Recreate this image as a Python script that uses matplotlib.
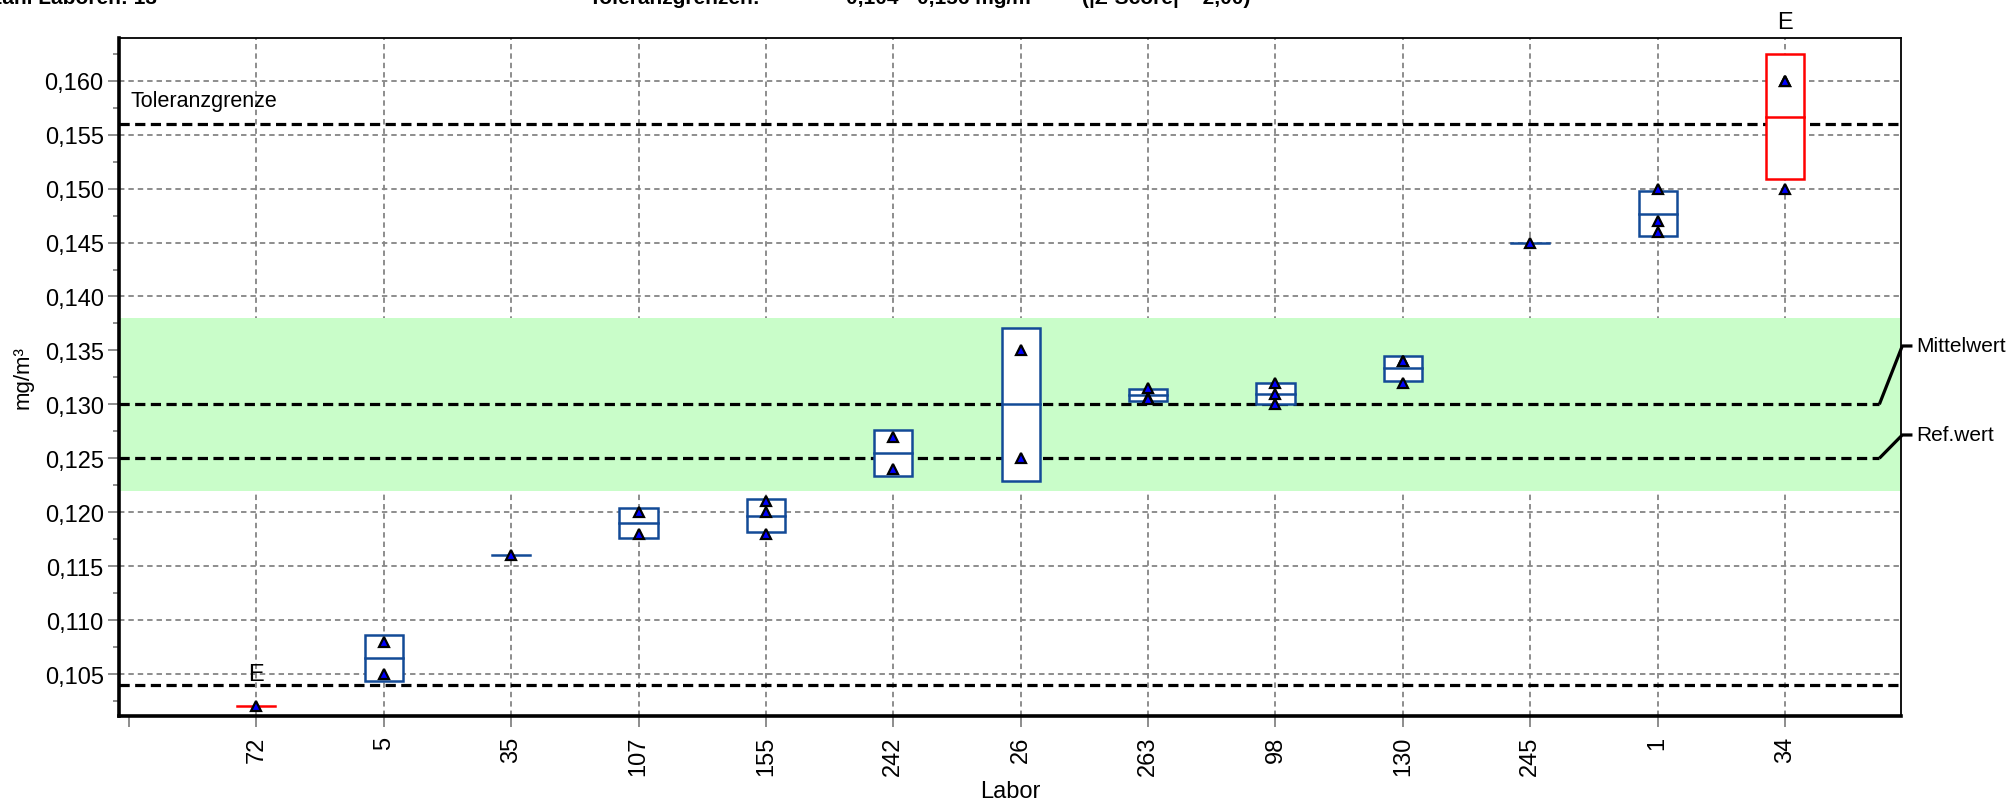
import numpy as np
import matplotlib
matplotlib.use("Agg")
import matplotlib.pyplot as plt
from matplotlib.patches import Rectangle
from matplotlib.ticker import MultipleLocator, FuncFormatter

plt.rcParams['font.family'] = ['Liberation Sans', 'DejaVu Sans']

# --- data -------------------------------------------------------------
labs = ['72', '5', '35', '107', '155', '242', '26', '263', '98', '130', '245', '1', '34']
lab_values = [
    [0.102],
    [0.108, 0.105],
    [0.116],
    [0.120, 0.118],
    [0.121, 0.120, 0.118],
    [0.127, 0.124],
    [0.135, 0.125],
    [0.1315, 0.1306, 0.1305],
    [0.132, 0.131, 0.130],
    [0.134, 0.134, 0.132],
    [0.145],
    [0.150, 0.147, 0.146],
    [0.160, 0.160, 0.150],
]
flagged_labs = ['72', '34']          # marked "E"
mean_value = 0.130                   # Mittelwert
ref_value = 0.125                    # Referenzwert
tol_low, tol_high = 0.104, 0.156     # Toleranzgrenzen
band_low, band_high = 0.122, 0.138   # shaded range

n_labs = len(labs)
blue = '#134A97'
red = '#FF0000'
grid_c = '#858585'

fig = plt.figure(figsize=(20.13, 8.04), dpi=100)
ax = fig.add_axes([119 / 2013, 87 / 804, (1901 - 119) / 2013, (717 - 39) / 804])
ax.set_xlim(-0.078, 13.91)
ax.set_ylim(0.10111, 0.16396)

# grid (only at lab positions and major y ticks)
yt = np.arange(0.105, 0.1601, 0.005)
for y in yt:
    ax.axhline(y, color=grid_c, lw=1.3, ls=(0, (3, 2.2)), zorder=0.5)
for x in range(1, n_labs + 1):
    ax.axvline(x, color=grid_c, lw=1.3, ls=(0, (3, 2.2)), zorder=0.5)

# shaded band
ax.axhspan(band_low, band_high, color='#C9FDC9', lw=0, zorder=1)

dash = (0, (3.2, 1.7))
ax.axhline(tol_high, color='black', lw=2.3, ls=dash, zorder=2)
ax.axhline(tol_low, color='black', lw=2.3, ls=dash, zorder=2)
x_end = 13.74
ax.plot([ax.get_xlim()[0], x_end], [mean_value, mean_value], color='black', lw=2.3, ls=dash, zorder=2)
ax.plot([ax.get_xlim()[0], x_end], [ref_value, ref_value], color='black', lw=2.3, ls=dash, zorder=2)

# line labels on the right
for val, lab_y, txt in [(mean_value, 0.13541, 'Mittelwert'), (ref_value, 0.12716, 'Ref.wert')]:
    ax.plot([x_end, 13.92, 14.0], [val, lab_y, lab_y], color='black', lw=2.3,
            clip_on=False, solid_capstyle='butt', zorder=5)
    ax.text(14.03, lab_y, txt, fontsize=15, va='center', ha='left', clip_on=False)

ax.text(0.01, tol_high + 0.0012, 'Toleranzgrenze', fontsize=15.5, va='bottom', ha='left')

# boxes: mean +/- standard deviation, individual results as triangles
w = 0.30
for i, (lab, vals) in enumerate(zip(labs, lab_values), start=1):
    vals = np.asarray(vals)
    m = vals.mean()
    sd = vals.std(ddof=1) if len(vals) > 1 else 0.0
    col = red if lab in flagged_labs else blue
    if sd > 0:
        ax.add_patch(Rectangle((i - w / 2, m - sd), w, 2 * sd, facecolor='white',
                               edgecolor=col, lw=1.8, zorder=3))
    ax.plot([i - w / 2, i + w / 2], [m, m], color=col, lw=1.8, zorder=3.5)
    ax.plot([i] * len(vals), vals, marker='^', ls='none', ms=7.5, mfc='#0000FF',
            mec='black', mew=1.6, zorder=4)
    if lab in flagged_labs:
        ax.annotate('E', xy=(i, m + sd), xytext=(0, 23), textcoords='offset points',
                    ha='center', va='center', fontsize=17, annotation_clip=False)

# axes, ticks
ax.set_xticks(range(0, n_labs + 1))
ax.set_xticklabels([''] + labs, rotation=90, fontsize=17)
ax.yaxis.set_major_locator(MultipleLocator(0.005))
ax.yaxis.set_minor_locator(MultipleLocator(0.0025))
ax.yaxis.set_major_formatter(FuncFormatter(lambda v, p: f'{v:.3f}'.replace('.', ',')))
ax.tick_params(axis='y', which='major', labelsize=17, length=8, width=1.3, colors=grid_c, labelcolor='black', pad=3)
ax.tick_params(axis='y', which='minor', length=4.5, width=1.3, colors=grid_c)
ax.tick_params(axis='x', which='major', length=8, width=1.3, colors=grid_c, labelcolor='black', pad=6)

for s in ['left', 'bottom']:
    ax.spines[s].set_linewidth(2.6)
for s in ['top', 'right']:
    ax.spines[s].set_linewidth(1.3)
for s in ax.spines.values():
    s.set_color('black')
    s.set_zorder(6)

ax.set_xlabel('Labor', fontsize=17, labelpad=4)
ax.set_ylabel('mg/m³', fontsize=16, labelpad=8)

# header lines (run off the top edge)
hy = 1 - 4 / 804
fig.text(157 / 2013, hy, 'Anzahl Laboren: 13', fontsize=15, fontweight='bold',
         ha='right', va='baseline')
fig.text(589 / 2013, hy, 'Toleranzgrenzen:', fontsize=15, fontweight='bold',
         ha='left', va='baseline')
fig.text(846 / 2013, hy, '0,104 - 0,156 mg/m³', fontsize=15, fontweight='bold',
         ha='left', va='baseline')
fig.text(1082 / 2013, hy, '(|Z-Score| = 2,00)', fontsize=15, fontweight='bold',
         ha='left', va='baseline')

fig.savefig('out.png', dpi=100, facecolor='white')
